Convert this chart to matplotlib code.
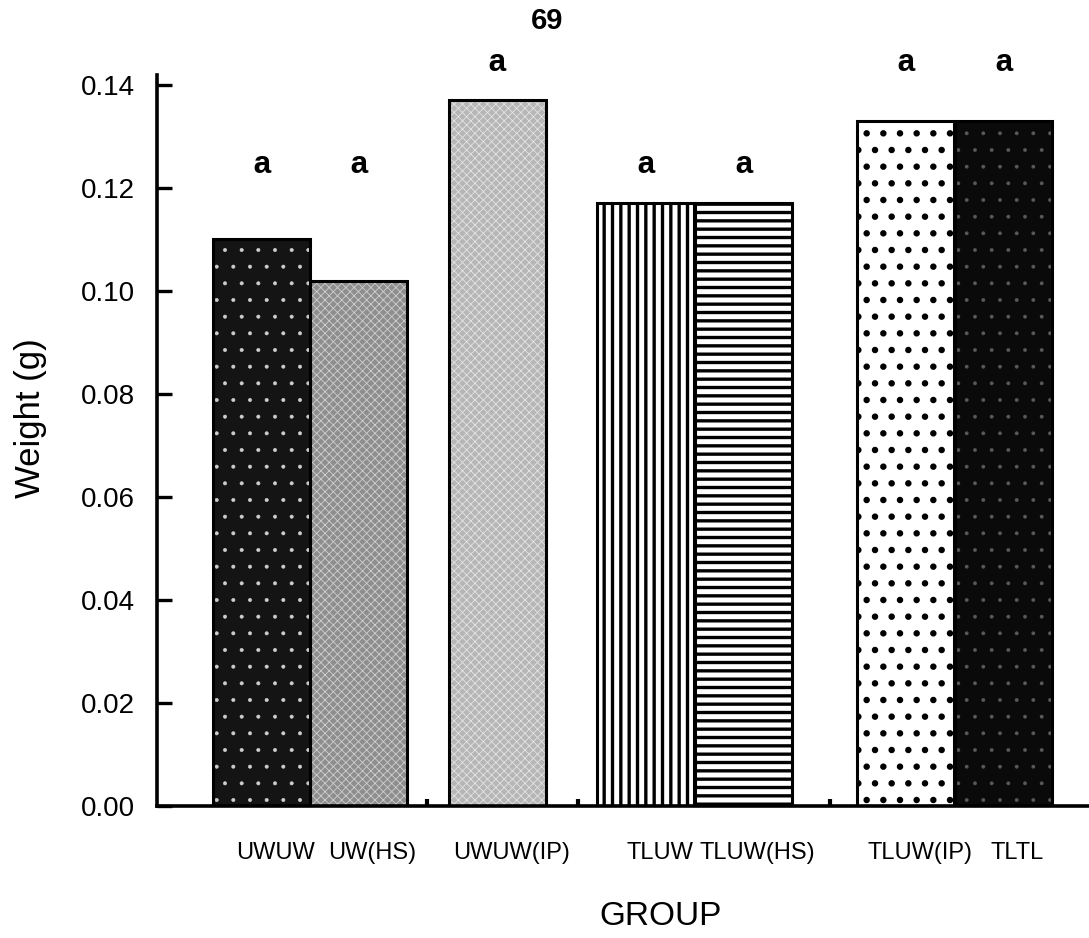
import numpy as np
import matplotlib
matplotlib.use("Agg")
import matplotlib.pyplot as plt
import matplotlib.transforms as mtransforms

# ==================== 数据 ====================
groups = ["UWUW", "UW(HS)", "UWUW(IP)", "TLUW", "TLUW(HS)", "TLUW(IP)", "TLTL"]
weights = [0.110, 0.102, 0.137, 0.117, 0.117, 0.133, 0.133]
letters = ["a", "a", "a", "a", "a", "a", "a"]
yticks = [0.00, 0.02, 0.04, 0.06, 0.08, 0.10, 0.12, 0.14]

# 柱子位置（三组并排 + 一根单独）
positions = [1.08, 2.08, 3.51, 5.04, 6.05, 7.72, 8.73]
dividers = [2.78, 4.34, 6.94]

# 每根柱子的填充样式：底色, 花纹, 花纹颜色, 花纹线宽
fills = [
    ("#141414", ".", "#cfcfcf", 0.4),
    ("#8e8e8e", "xxxx", "#cfcfcf", 0.6),
    ("#b6b6b6", "xxxx", "#e4e4e4", 0.6),
    ("white", "||", "black", 2.4),
    ("white", "--", "black", 2.4),
    ("white", ".", "black", 2.2),
    ("#0a0a0a", ".", "#5a5a5a", 0.3),
]

plt.rcParams['font.family'] = ['Liberation Sans', 'DejaVu Sans']

fig = plt.figure(figsize=(10.89, 9.38), dpi=100)
ax = fig.add_axes([0.1442, 0.1407, 0.8558, 0.7793])

for x, v, (face, hatch, hcolor, hlw) in zip(positions, weights, fills):
    b = ax.bar(x, v, width=1.0, color=face, edgecolor=hcolor, hatch=hatch,
               linewidth=0, zorder=2)
    for p in b:
        if hasattr(p, "set_hatch_linewidth"):
            p.set_hatch_linewidth(hlw)
    ax.bar(x, v, width=1.0, fill=False, edgecolor="black", linewidth=2.2,
           zorder=3)

# 显著性字母：两行
for x, v, s in zip(positions, weights, letters):
    y = 0.1245 if v < 0.125 else 0.1443
    ax.text(x, y, s, ha="center", va="center", fontsize=23,
            family="Liberation Mono", fontweight="bold", clip_on=False)

ax.set_xlim(0, 9.61)
ax.set_ylim(0, 0.1419)

ax.set_yticks(yticks)
ax.set_yticklabels([f"{t:.2f}" for t in yticks])
ax.tick_params(axis="y", direction="in", length=11, width=2.4, pad=16,
               labelsize=20)

ax.set_xticks(positions)
ax.set_xticklabels(groups)
ax.tick_params(axis="x", which="major", length=0, pad=26, labelsize=17)
ax.set_xticks(dividers, minor=True)
ax.tick_params(axis="x", which="minor", direction="in", length=5, width=3)

# 横轴标签稍向右偏
shift = mtransforms.ScaledTranslation(10 / 72, 0, fig.dpi_scale_trans)
for lbl in ax.get_xticklabels():
    lbl.set_transform(lbl.get_transform() + shift)

for side in ["top", "right"]:
    ax.spines[side].set_visible(False)
for side in ["left", "bottom"]:
    ax.spines[side].set_linewidth(2.6)

ax.set_ylabel("Weight (g)", fontsize=25)
ax.yaxis.set_label_coords(-0.118, 0.53)
ax.set_xlabel("GROUP", fontsize=24)
ax.xaxis.set_label_coords(0.54, -0.13)
ax.xaxis.label.set_va("top")

fig.text(547 / 1089, 1 - 21 / 938, "69", ha="center", va="center",
         fontsize=21, fontweight="bold")

plt.savefig("out.png", dpi=100)
plt.close()
